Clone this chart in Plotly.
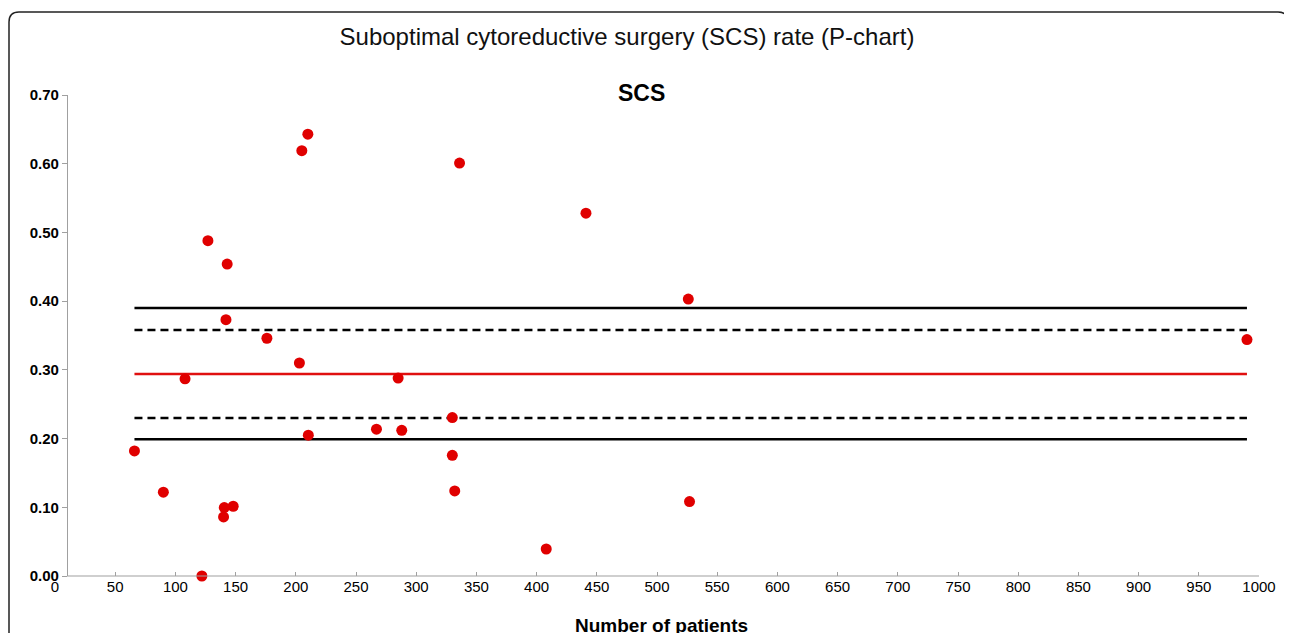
import plotly.graph_objects as go

# data
n_patients = [66, 90, 108, 122, 127, 143, 142, 140.6, 140, 148, 176, 203, 205, 210,
              210.4, 267, 285, 288, 336, 441, 526, 330, 330, 332, 527, 408, 990]
scs_rate = [0.182, 0.122, 0.287, 0.0, 0.488, 0.454, 0.373, 0.0996, 0.086, 0.1015,
            0.346, 0.310, 0.619, 0.643, 0.205, 0.2136, 0.288, 0.212, 0.601, 0.528,
            0.403, 0.2306, 0.1757, 0.1238, 0.1083, 0.0393, 0.344]

center_line = 0.294
ucl_3sd = 0.390
ucl_2sd = 0.358
lcl_2sd = 0.230
lcl_3sd = 0.199

x_ticks = list(range(0, 1001, 50))

# page body has an 8px margin, so the figure sits at (8, 8)
OFF = 8
W, H = 1292 - OFF, 633 - OFF
ML, MR, MT, MB = 55 - OFF, 33, 95 - OFF, 57


def px_x(p):
    return (p - OFF - ML) / (W - ML - MR)


def px_y(p):
    return (H - MB - (p - OFF)) / (H - MT - MB)


fig = go.Figure()

x_span = [min(n_patients), max(n_patients)]
limit_lines = [
    (ucl_3sd, "black", "solid"),
    (ucl_2sd, "black", "dash"),
    (center_line, "#e01010", "solid"),
    (lcl_2sd, "black", "dash"),
    (lcl_3sd, "black", "solid"),
]
for val, col, dash in limit_lines:
    fig.add_trace(go.Scatter(
        x=x_span, y=[val, val], mode="lines",
        line=dict(color=col, width=2.5, dash="8px,5px" if dash == "dash" else "solid"),
        showlegend=False, hoverinfo="skip",
    ))

fig.add_trace(go.Scatter(
    x=n_patients, y=scs_rate, mode="markers",
    marker=dict(color="#e00000", size=11),
    cliponaxis=False, showlegend=False,
))

# rounded frame around the whole figure
x0, x1 = px_x(9), px_x(1288)
y1, y0 = px_y(12), px_y(700)
rx = 10 / (W - ML - MR)
ry = 10 / (H - MT - MB)
frame = (f"M {x0},{y0} L {x0},{y1 - ry} Q {x0},{y1} {x0 + rx},{y1} "
         f"L {x1 - rx},{y1} Q {x1},{y1} {x1},{y1 - ry} L {x1},{y0}")
fig.add_shape(type="path", path=frame, xref="paper", yref="paper",
              line=dict(color="#222", width=1.5))

# x axis line starts where the y axis crosses
fig.add_shape(type="line", xref="x", yref="paper", x0=10, x1=1000, y0=0, y1=0,
              line=dict(color="#a0a0a0", width=1.2))

fig.add_annotation(text="<b>SCS</b>", x=px_x(641), y=px_y(93),
                   xref="paper", yref="paper", showarrow=False,
                   xanchor="center", yanchor="middle",
                   font=dict(size=23, color="black"))
fig.add_annotation(text="<b>Number of patients</b>", x=px_x(661), y=px_y(625),
                   xref="paper", yref="paper", showarrow=False,
                   xanchor="center", yanchor="middle",
                   font=dict(size=19, color="black"))

tick_font = dict(size=15, family="Liberation Sans, Arial", color="black")

fig.update_layout(
    width=W, height=H,
    margin=dict(l=ML, r=MR, t=MT, b=MB),
    paper_bgcolor="white", plot_bgcolor="white",
    font=dict(family="Liberation Sans, Arial, sans-serif", color="black"),
    title=dict(text="Suboptimal cytoreductive surgery (SCS) rate (P-chart)",
               x=(627 - OFF) / W, xanchor="center", y=1 - (37 - OFF) / H,
               yanchor="middle", font=dict(size=24, color="#111")),
    xaxis=dict(range=[0, 1000], tickvals=x_ticks, showgrid=False, zeroline=False,
               showline=False, ticks="inside", ticklen=4, tickcolor="#a0a0a0",
               tickfont=tick_font, tickprefix="<b>", ticksuffix="</b>"),
    yaxis=dict(range=[0, 0.70], dtick=0.1, tickformat=".2f", showgrid=False,
               zeroline=False, showline=True, linecolor="#a0a0a0", linewidth=1.2,
               ticks="outside", ticklen=5, tickcolor="#a0a0a0",
               anchor="free", position=0.01,
               tickfont=tick_font, tickprefix="<b>", ticksuffix="</b>"),
)

fig.write_html("out.html")
